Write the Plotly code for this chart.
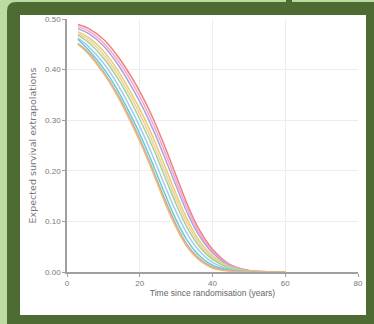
import plotly.graph_objects as go

# ---- data ----
years = [3, 6, 10, 14, 18, 21, 24, 27, 30, 33, 36, 40, 45, 50, 55, 60]

s_red    = [0.489, 0.481, 0.460, 0.426, 0.382, 0.343, 0.298, 0.246, 0.190, 0.135, 0.088, 0.045, 0.014, 0.003, 0.0005, 0.0]
s_pink   = [0.485, 0.476, 0.453, 0.418, 0.373, 0.333, 0.287, 0.235, 0.180, 0.127, 0.082, 0.041, 0.013, 0.003, 0.0005, 0.0]
s_purple = [0.481, 0.471, 0.447, 0.410, 0.363, 0.323, 0.276, 0.224, 0.170, 0.118, 0.076, 0.038, 0.0115, 0.0024, 0.0004, 0.0]
s_yellow = [0.475, 0.463, 0.437, 0.398, 0.349, 0.308, 0.260, 0.208, 0.154, 0.105, 0.066, 0.032, 0.0096, 0.002, 0.0003, 0.0]
s_peach  = [0.471, 0.458, 0.430, 0.390, 0.340, 0.298, 0.249, 0.197, 0.144, 0.097, 0.060, 0.028, 0.0084, 0.0017, 0.0003, 0.0]
s_green  = [0.468, 0.453, 0.423, 0.382, 0.331, 0.287, 0.239, 0.186, 0.134, 0.088, 0.054, 0.025, 0.007, 0.0014, 0.0002, 0.0]
s_lblue  = [0.462, 0.445, 0.413, 0.370, 0.317, 0.272, 0.222, 0.169, 0.119, 0.076, 0.045, 0.019, 0.005, 0.001, 0.0001, 0.0]
s_cyan   = [0.460, 0.438, 0.403, 0.358, 0.303, 0.257, 0.206, 0.153, 0.103, 0.063, 0.035, 0.0135, 0.0034, 0.0006, 0.0, 0.0]
s_gray   = [0.452, 0.433, 0.396, 0.350, 0.294, 0.247, 0.195, 0.142, 0.093, 0.054, 0.029, 0.010, 0.0021, 0.0003, 0.0, 0.0]
s_orange = [0.450, 0.430, 0.393, 0.346, 0.289, 0.242, 0.190, 0.136, 0.088, 0.050, 0.026, 0.008, 0.0015, 0.0002, 0.0, 0.0]

series = [
    ("Model 1", s_red, "#ef7f7f"),
    ("Model 2", s_pink, "#f4a6c8"),
    ("Model 3", s_purple, "#aaa2e2"),
    ("Model 4", s_yellow, "#e6d163"),
    ("Model 5", s_peach, "#f2cba6"),
    ("Model 6", s_green, "#a6d392"),
    ("Model 7", s_lblue, "#a3cbef"),
    ("Model 8", s_cyan, "#67c9d6"),
    ("Model 9", s_gray, "#b5ada2"),
    ("Model 10", s_orange, "#f2b878"),
]

x_ticks = [0, 20, 40, 60, 80]
y_ticks = [0.0, 0.1, 0.2, 0.3, 0.4, 0.5]

x_title = "Time since randomisation (years)"
y_title = "Expected survival extrapolations"

# ---- geometry ----
W, H = 374, 324
L, R, T, B = 67, 16, 19, 52
PW, PH = W - L - R, H - T - B


def px(x):
    return (x - L) / PW


def py(y):
    return (H - B - y) / PH


fig = go.Figure()
for name, vals, col in series:
    fig.add_trace(go.Scatter(x=years, y=vals, mode="lines", name=name,
                             line=dict(color=col, width=1.5, shape="spline", smoothing=1.0),
                             hoverinfo="skip"))

# dark green rounded frame path
x0, y0, x1, y1, r = 7, 2, 390, 340, 9
frame_path = (f"M {px(x0)},{py(y0 + r)} "
              f"Q {px(x0)},{py(y0)} {px(x0 + r)},{py(y0)} "
              f"L {px(x1)},{py(y0)} L {px(x1)},{py(y1)} L {px(x0)},{py(y1)} Z")

shapes = [
    dict(type="path", path=frame_path, xref="paper", yref="paper",
         fillcolor="#4d6b33", line=dict(width=0), layer="below"),
    dict(type="rect", xref="paper", yref="paper", x0=px(286), x1=px(292), y0=py(0), y1=py(4),
         fillcolor="#4d6b33", line=dict(width=0), layer="below"),
    dict(type="rect", xref="paper", yref="paper", x0=px(20), x1=px(366), y0=py(15), y1=py(315),
         fillcolor="#ffffff", line=dict(width=0), layer="below"),
]

fig.update_layout(
    width=W, height=H,
    margin=dict(l=L, r=R, t=T, b=B),
    paper_bgcolor="#bcdba0",
    plot_bgcolor="rgba(0,0,0,0)",
    showlegend=False,
    shapes=shapes,
    font=dict(family="Liberation Sans, Arial, sans-serif", color="#555555"),
)

fig.update_xaxes(range=[0, 80], tickvals=x_ticks, ticktext=[str(v) for v in x_ticks],
                 showline=True, linecolor="#a0a0a0", linewidth=1.5,
                 ticks="outside", ticklen=3, tickcolor="#a0a0a0",
                 showgrid=True, gridcolor="#ededed", gridwidth=1,
                 zeroline=False, tickfont=dict(size=8, color="#777777"),
                 title=dict(text=x_title, font=dict(size=8.5, color="#666666"), standoff=2))
fig.update_yaxes(range=[0, 0.5], tickvals=y_ticks, tickformat=".2f",
                 showline=True, linecolor="#a0a0a0", linewidth=1.5,
                 ticks="outside", ticklen=3, tickcolor="#a0a0a0",
                 showgrid=True, gridcolor="#ededed", gridwidth=1,
                 zeroline=False, tickfont=dict(size=8, color="#777777"),
                 title=dict(text=y_title, font=dict(size=9.5, family="DejaVu Sans", color="#777777"),
                            standoff=7))

fig.write_html("out.html", config={"displayModeBar": False},
               post_script="document.body.style.margin='0';document.body.style.overflow='hidden';")
